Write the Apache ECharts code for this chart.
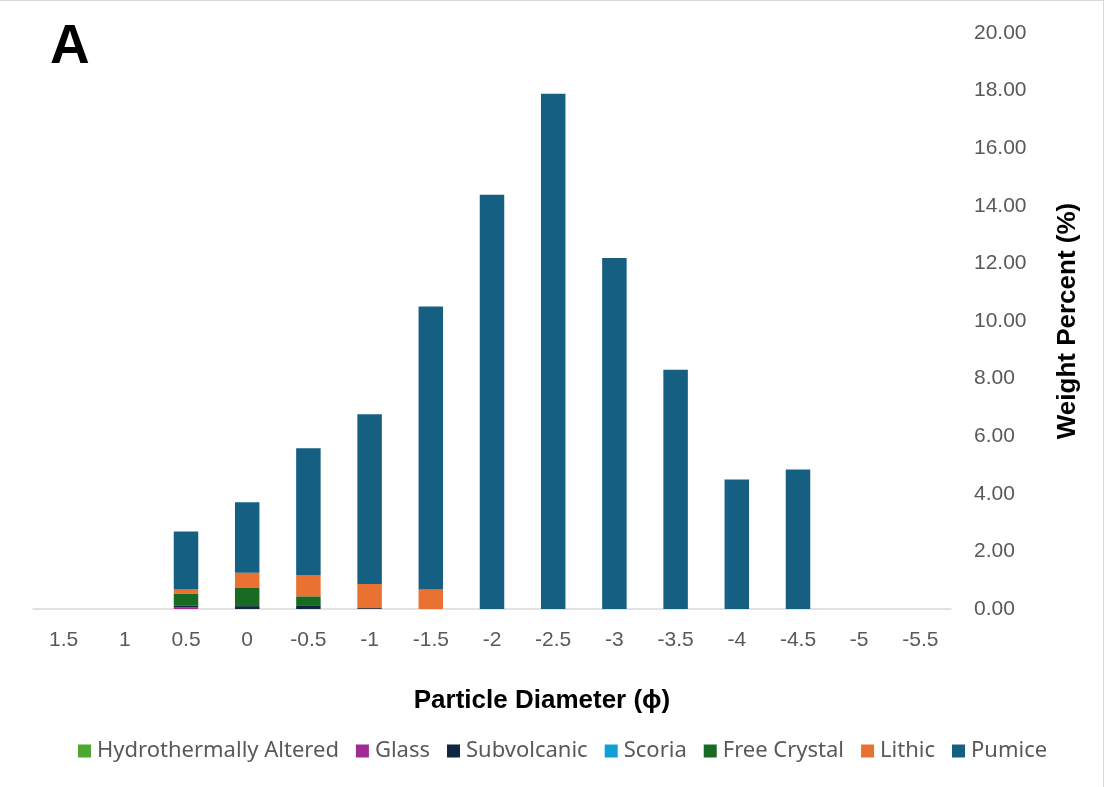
<!DOCTYPE html>
<html>
<head>
<meta charset="utf-8">
<script src="https://cdn.jsdelivr.net/npm/echarts@6/dist/echarts.min.js"></script>
<style>
html, body { margin: 0; padding: 0; background: #fff; }
#draw { width: 1104px; height: 787px; box-sizing: border-box; border-top: 1px solid #d9d9d9; border-right: 1px solid #d9d9d9; }
</style>
</head>
<body>
<div id="draw"></div>
<script>
// particle size classes (phi)
var categories = ['1.5', '1', '0.5', '0', '-0.5', '-1', '-1.5', '-2', '-2.5', '-3', '-3.5', '-4', '-4.5', '-5', '-5.5'];

var hydroAltered = [0, 0, 0, 0, 0, 0, 0, 0, 0, 0, 0, 0, 0, 0, 0];
var glass        = [0, 0, 0.06, 0, 0, 0, 0, 0, 0, 0, 0, 0, 0, 0, 0];
var subvolcanic  = [0, 0, 0.05, 0.10, 0.13, 0.03, 0, 0, 0, 0, 0, 0, 0, 0, 0];
var scoria       = [0, 0, 0, 0, 0, 0, 0, 0, 0, 0, 0, 0, 0, 0, 0];
var freeCrystal  = [0, 0, 0.43, 0.65, 0.31, 0, 0, 0, 0, 0, 0, 0, 0, 0, 0];
var lithic       = [0, 0, 0.15, 0.51, 0.74, 0.84, 0.68, 0, 0, 0, 0, 0, 0, 0, 0];
var pumice       = [0, 0, 2.00, 2.45, 4.40, 5.89, 9.82, 14.38, 17.89, 12.19, 8.31, 4.50, 4.84, 0, 0];

var names = ['Hydrothermally Altered', 'Glass', 'Subvolcanic', 'Scoria', 'Free Crystal', 'Lithic', 'Pumice'];
var values = [hydroAltered, glass, subvolcanic, scoria, freeCrystal, lithic, pumice];
var colors = ['#4ea72e', '#a02b93', '#0e2841', '#0f9ed5', '#196b24', '#e97132', '#156082'];

var myChart = echarts.init(document.getElementById('draw'));

var series = names.map(function(n, i) {
	return {
		name : n,
		type : 'bar',
		stack : 'total',
		barWidth : '40%',
		data : values[i],
		itemStyle : { color : colors[i] }
	};
});

var option = {
	animation : false,
	color : colors,
	textStyle : { fontFamily : 'Liberation Sans' },
	title : [ {
		text : 'A',
		left : 45,
		top : 14,
		textStyle : { fontSize : 55, fontWeight : 'bold', color : '#000', fontFamily : 'Liberation Sans' }
	}, {
		text : 'Particle Diameter (ϕ)',
		left : 537,
		top : 682,
		textAlign : 'center',
		textStyle : { fontSize : 26, fontWeight : 'bold', color : '#000', fontFamily : 'Liberation Sans' }
	} ],
	legend : {
		bottom : 20,
		left : 73,
		itemWidth : 13,
		itemHeight : 13,
		itemGap : 17,
		icon : 'rect',
		data : names,
		textStyle : { fontSize : 22, color : '#595959', fontFamily : 'Noto Sans', padding : [0, 0, 0, 1] }
	},
	grid : {
		left : 33,
		right : 152,
		top : 32,
		bottom : 178
	},
	xAxis : {
		type : 'category',
		data : categories,
		axisLine : { lineStyle : { color : '#d9d9d9', width : 1.5 } },
		axisTick : { show : false },
		axisLabel : { fontSize : 21, color : '#595959', margin : 21, fontFamily : 'Liberation Sans' }
	},
	yAxis : {
		type : 'value',
		position : 'right',
		min : 0,
		max : 20,
		interval : 2,
		splitLine : { show : false },
		axisLine : { show : false },
		axisTick : { show : false },
		axisLabel : {
			fontSize : 21,
			color : '#595959',
			margin : 23,
			fontFamily : 'Liberation Sans',
			formatter : function(v) { return v.toFixed(2); }
		},
		name : 'Weight Percent (%)',
		nameLocation : 'middle',
		nameGap : 104,
		nameRotate : 90,
		nameTextStyle : { fontSize : 26, fontWeight : 'bold', color : '#000', fontFamily : 'Liberation Sans' }
	},
	series : series
};
myChart.setOption(option);
</script>
</body>
</html>
